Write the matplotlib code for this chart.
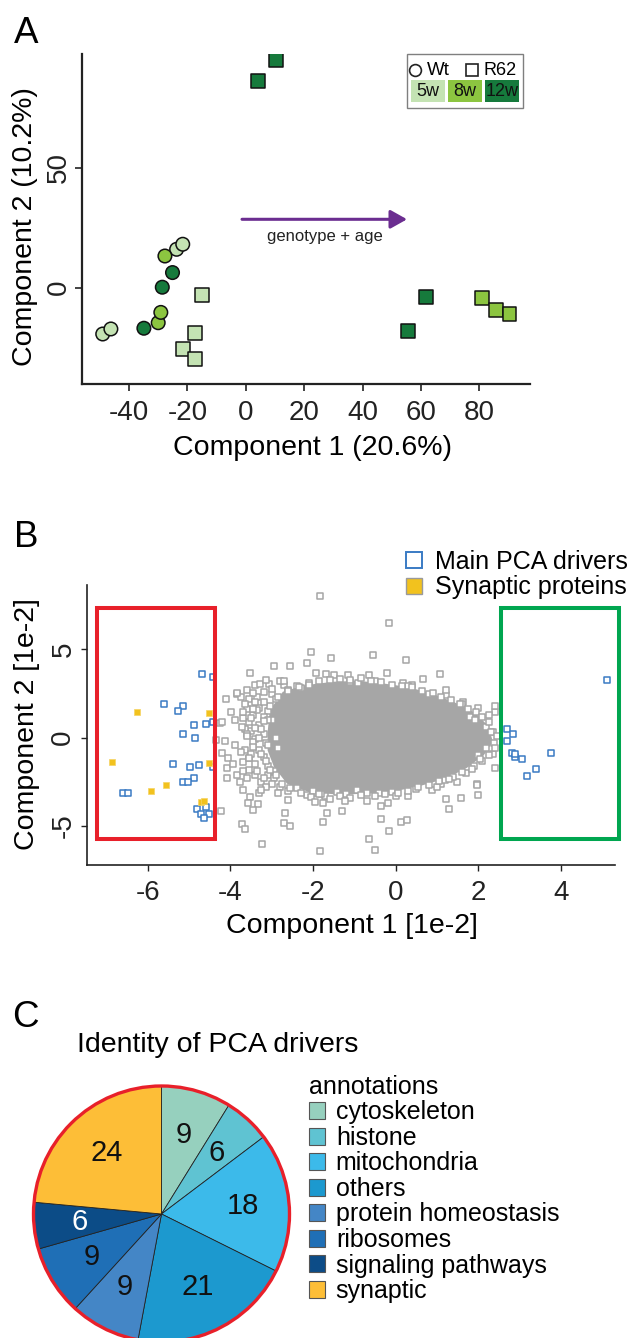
import matplotlib
matplotlib.use('Agg')
import matplotlib.pyplot as plt
from matplotlib.patches import Rectangle, Circle
from matplotlib.lines import Line2D

plt.rcParams['font.family'] = ['Liberation Sans', 'DejaVu Sans']
plt.rcParams['axes.unicode_minus'] = False

# ---------------- panel A : sample PCA ----------------
age_names = ['5w', '8w', '12w']
age_colors = {'5w': '#c4e3b3', '8w': '#8cc540', '12w': '#167a3c'}

wt_x = [-23.7, -21.6, -49.0, -46.2, -27.7, -30.0, -29.1, -25.1, -28.6, -34.9]
wt_y = [16.0, 18.1, -19.3, -17.2, 13.2, -14.6, -10.3, 6.3, 0.2, -16.9]
wt_age = ['5w', '5w', '5w', '5w', '8w', '8w', '8w', '12w', '12w', '12w']

r62_x = [-15.1, -17.3, -21.4, -17.3, 4.3, 10.2, 55.5, 61.7, 81.0, 85.6, 90.3]
r62_y = [-3.0, -18.7, -25.5, -29.8, 86.1, 94.9, -17.9, -4.0, -4.4, -9.3, -11.0]
r62_age = ['5w', '5w', '5w', '5w', '12w', '12w', '12w', '12w', '8w', '8w', '8w']

a_xticks = [-40, -20, 0, 20, 40, 60, 80]
a_yticks = [0, 50]

# ---------------- panel B : protein loadings ----------------
# dense centre of the loading cloud (outline)
core_x = [-3.05, -3.0, -2.7, -2.2, -1.5, -0.9, -0.3, 0.3, 0.9, 1.4, 1.9, 2.2,
          2.3, 2.1, 1.7, 1.2, 0.6, 0.0, -0.7, -1.4, -2.1, -2.6, -2.9, -3.05]
core_y = [0.3, 1.5, 2.5, 2.85, 3.05, 3.1, 2.95, 2.75, 2.35, 1.9, 1.3, 0.6,
          -0.2, -0.9, -1.6, -2.2, -2.6, -2.9, -3.05, -3.1, -2.95, -2.5, -1.6, -0.7]

# single proteins around the dense centre
edge_x = [-3.41, -3.29, -3.06, -2.70, -3.2, -3.0, -2.9, -3.35, -3.5, -3.3, -3.1, -3.45,
          -3.2, -3.55, -3.3, -3.5, -3.2, -3.4, -3.15, -3.45, -3.3, -3.55, -3.2, -3.4,
          -3.1, -3.41, -3.09, -3.25, -2.8, -2.95, -2.6, -2.4, -2.15, -1.95, -1.7, -1.43,
          -1.2, -0.94, -0.7, -0.4, -0.1, 0.31, 0.5, 0.89, 1.1, 1.48, 1.4, 1.7,
          1.96, 1.9, 2.1, 2.41, 2.35, 2.37, 2.35, 2.41, 2.25, 2.41, 1.99, 1.64,
          1.22, 1.21, 0.39, 0.17, 0.67, -0.22, -0.64, -0.9, -1.1, -1.15, -1.5, -1.69,
          -1.93, -2.1, -2.4, 2.2, 2.2, 1.8, 0.8, -0.5, -2.6, -2.0, 0.0, 1.0,
          -3.0, -2.85, -2.95, -2.9, 1.6, 2.0, 1.2, 0.3, -1.8, -2.3,
          -3.1, -3.05, -2.85, -2.6, -2.35, -2.1, -1.85, -1.6, -1.35, -1.1, -0.85, -0.6,
          -0.35, -0.1, 0.15, 0.4, 0.65, 0.9, 1.1, 1.35, 1.55, 1.75, 1.95, 2.1,
          2.25, 2.3, 2.45, 2.4, 2.25, 2.05, 1.85, 1.6, 1.3, 1.05, 0.8, 0.55,
          0.3, 0.05, -0.25, -0.5, -0.85, -1.1, -1.35, -1.6, -1.85, -2.05, -2.3, -2.55,
          -2.75, -2.9, -3.05, -3.15, -3.25, -3.1, -3.3, -3.25, -3.2, -3.35, -3.2, -3.0,
          -2.8, -3.6, -3.45, -3.55, -3.4, -3.6, -3.45, -3.7, -3.5, -3.65, -3.4, -3.6,
          -3.45, -3.65, -3.5, -3.7, -3.55, -3.35, -3.6, -3.2, -3.0, -2.85, -3.15, -3.3,
          -2.7, -3.15]
edge_y = [2.98, 3.06, 3.02, 2.98, 2.6, 2.5, 2.2, 2.3, 1.9, 1.7, 1.5, 1.3,
          1.2, 0.9, 0.7, 0.4, 0.2, -0.1, -0.3, -0.23, -0.7, -1.17, -1.1, -1.5,
          -1.6, -2.11, -2.11, -2.5, -2.77, -2.3, -3.0, -2.86, -3.24, -3.1, -3.3, -3.06,
          -3.2, -2.96, -3.15, -3.1, -3.05, -3.28, -2.9, -2.96, -2.6, -2.53, -2.2, -2.0,
          -2.62, -1.6, -1.3, -1.73, -0.94, -0.32, 0.3, 1.47, 1.28, 1.81, 1.7, 2.04,
          2.42, 2.7, 2.98, 3.11, 3.32, 3.64, 3.55, 3.1, 3.17, 3.53, 3.53, 3.6,
          3.66, 3.1, 2.9, 0.6, -0.6, 1.2, 2.5, 3.2, 2.7, -3.0, -3.3, -2.8,
          1.0, -0.6, -1.9, 0.0, 1.9, -1.0, -2.4, 2.9, -3.2, 2.8,
          1.0, 1.8, 2.3, 2.65, 2.85, 3.0, 3.2, 3.25, 3.3, 3.25, 3.35, 3.2,
          3.15, 3.0, 2.9, 2.85, 2.65, 2.55, 2.3, 2.15, 1.9, 1.65, 1.45, 1.15,
          0.9, 0.35, 0.1, -0.6, -1.0, -1.2, -1.75, -1.95, -2.35, -2.45, -2.7, -2.8,
          -3.0, -3.1, -3.2, -3.3, -3.25, -3.4, -3.3, -3.45, -3.2, -3.35, -3.1, -2.85,
          -2.6, -2.1, -1.85, -1.3, -0.9, -0.4, 0.0, 0.5, 0.95, 1.55, 2.0, 2.75,
          3.2, 2.7, 2.55, 2.2, 2.0, 1.6, 1.65, 1.1, 1.1, 0.5, 0.55, 0.2,
          -0.5, -0.7, -0.9, -1.4, -1.8, -1.9, -2.25, -2.3, -2.6, -3.1, -2.8, -3.1,
          3.2, 3.25]

out_x = [-1.83, -0.15, -2.05, -1.56, -2.94, -2.55, -2.14, -3.52, -3.84, -4.11, -0.54, 0.24,
         1.08, -3.98, -3.69, -4.26, -3.72, -4.13, -3.89, -4.34, -4.2, -4.05, -3.55, -4.08,
         -4.08, -3.85, -3.77, -3.69, -3.53, -3.25, -3.57, -3.33, -3.46, -4.24, -3.72, -3.65,
         -3.23, -2.69, -2.71, -2.56, -2.6, -1.95, -1.75, -1.23, -1.31, -1.67, -1.75, -1.83,
         -0.69, -0.36, -0.19, -0.36, -0.15, -0.64, -0.49, 0.14, 0.27, 1.21, 1.3, 1.59,
         2.0, 1.98, 1.91, -4.21, -3.9, -3.95, -3.7, -3.75, -3.6, -3.65, -3.75, -3.85]
out_y = [8.04, 6.49, 4.87, 4.53, 4.04, 4.04, 4.25, 3.66, 2.49, 2.19, 4.68, 4.4,
         3.62, 1.44, 1.47, 0.85, 0.62, -0.17, -0.41, -0.13, -0.85, -1.17, -1.17, -1.70,
         -2.26, -2.11, -2.49, -2.96, -3.34, -2.96, -3.71, -3.77, -4.09, -4.15, -4.87, -5.17,
         -6.0, -4.26, -4.83, -4.98, -3.53, -3.62, -3.68, -3.58, -4.13, -4.24, -4.75, -6.41,
         -3.58, -3.87, -3.68, -4.6, -5.28, -5.73, -6.36, -4.75, -4.66, -3.47, -4.03, -3.39,
         -3.24, -2.68, 1.0, 0.91, 1.0, -1.5, -1.9, -0.8, 0.1, 1.9, 2.3, 2.51]

drv_x = [-4.68, -4.43, -5.6, -5.14, -5.28, -4.89, -4.6, -4.43, -5.16, -4.85, -5.38, -4.97,
         -4.76, -4.43, -4.89, -5.15, -5.04, -6.6, -6.49, -4.81, -4.6, -4.72, -4.52, -4.64,
         5.11, 2.69, 2.85, 2.69, 2.83, 2.89, 2.88, 3.05, 3.77, 3.41, 3.17]
drv_y = [3.6, 3.45, 1.91, 1.79, 1.51, 0.72, 0.78, 0.91, 0.21, -0.02, -1.49, -1.66,
         -1.55, -1.64, -2.26, -2.5, -2.5, -3.15, -3.15, -4.03, -3.9, -4.32, -4.32, -4.56,
         3.27, 0.49, 0.21, -0.19, -0.88, -1.11, -0.94, -1.21, -0.85, -1.75, -2.15]

syn_x = [-6.27, -4.51, -6.87, -4.51, -5.92, -5.57, -4.72, -4.63]
syn_y = [1.45, 1.40, -1.36, -1.43, -3.02, -2.66, -3.64, -3.58]

b_xticks = [-6, -4, -2, 0, 2, 4]
b_yticks = [-5, 0, 5]

# ---------------- panel C : identity of drivers ----------------
annot = ['cytoskeleton', 'histone', 'mitochondria', 'others',
         'protein homeostasis', 'ribosomes', 'signaling pathways', 'synaptic']
counts = [9, 6, 18, 21, 9, 9, 6, 24]
pie_colors = ['#96d0be', '#5fc3d2', '#3cbaea', '#1c99cf',
              '#4486c6', '#1f6fb6', '#0c4c87', '#fdbe37']

GRAY = '#a6a6a6'
BLUE = '#3a7bc4'
YEL = '#f2c21e'

fig = plt.figure(figsize=(6.33, 13.38), dpi=100)

# ===== A =====
ax = fig.add_axes([0.1295, 0.7128, 0.7073, 0.2466])
ax.set_xlim(-56.1, 97.2)
ax.set_ylim(-40.25, 97.25)
for s in ['top', 'right']:
    ax.spines[s].set_visible(False)
for s in ['left', 'bottom']:
    ax.spines[s].set_linewidth(1.6)
    ax.spines[s].set_color('#222222')
ax.set_xticks(a_xticks)
ax.set_yticks(a_yticks)
ax.tick_params(axis='both', length=5, width=1.2, labelsize=20, colors='#222222')
ax.tick_params(axis='x', pad=6)
ax.tick_params(axis='y', pad=2)
for t in ax.get_yticklabels():
    t.set_rotation(90)
    t.set_va('center')
ax.set_xlabel('Component 1 (20.6%)', fontsize=20.5)
ax.set_ylabel('Component 2 (10.2%)', fontsize=20.5)
ax.xaxis.set_label_coords(0.514, -0.155)
ax.yaxis.set_label_coords(-0.098, 0.478)

ax.scatter(wt_x, wt_y, s=95, marker='o', c=[age_colors[a] for a in wt_age],
           edgecolors='#111111', linewidths=1.1, zorder=3)
ax.scatter(r62_x, r62_y, s=100, marker='s', c=[age_colors[a] for a in r62_age],
           edgecolors='#111111', linewidths=1.1, zorder=3)

ax.annotate('', xy=(55.2, 28.5), xytext=(-1.3, 28.5),
            arrowprops=dict(arrowstyle='-|>,head_length=0.5,head_width=0.28',
                            color='#6b2d90', lw=2.2, mutation_scale=20,
                            shrinkA=0, shrinkB=0))
ax.text(27, 21.3, 'genotype + age', fontsize=12, ha='center', va='center', color='#222222')

# legend box (axes fraction)
ax.add_patch(Rectangle((0.725, 0.838), 0.261, 0.163, transform=ax.transAxes,
                       facecolor='white', edgecolor='#7f7f7f', lw=1.0, clip_on=False, zorder=4))
ax.plot([0.7438], [0.952], transform=ax.transAxes, marker='o', ms=8.5, mfc='white',
        mec='#222222', mew=1.2, clip_on=False, zorder=5)
ax.text(0.7715, 0.950, 'Wt', transform=ax.transAxes, fontsize=13.5, va='center', zorder=5)
ax.plot([0.8705], [0.952], transform=ax.transAxes, marker='s', ms=8.8, mfc='white',
        mec='#222222', mew=1.2, clip_on=False, zorder=5)
ax.text(0.896, 0.950, 'R62', transform=ax.transAxes, fontsize=13, va='center', zorder=5)
for i, a in enumerate(age_names):
    x0 = 0.7344 + i * 0.083
    ax.add_patch(Rectangle((x0, 0.8563), 0.0766, 0.0658, transform=ax.transAxes,
                           facecolor=age_colors[a], edgecolor='none', clip_on=False, zorder=5))
    ax.text(x0 + 0.0383, 0.887, a, transform=ax.transAxes, fontsize=13,
            ha='center', va='center', color='#111111', zorder=6)

fig.text(14 / 633, 1 - 43.3 / 1338, 'A', fontsize=26.5, ha='left', va='baseline')

# ===== B =====
bx = fig.add_axes([0.1371, 0.3535, 0.8343, 0.2093])
bx.set_xlim(-7.48, 5.31)
bx.set_ylim(-7.2, 8.64)
for s in ['top', 'right']:
    bx.spines[s].set_visible(False)
for s in ['left', 'bottom']:
    bx.spines[s].set_linewidth(1.2)
    bx.spines[s].set_color('#222222')
bx.set_xticks(b_xticks)
bx.set_yticks(b_yticks)
bx.tick_params(axis='both', length=4.5, width=1.0, labelsize=20, colors='#222222')
bx.tick_params(axis='x', pad=6)
bx.tick_params(axis='y', pad=3)
for t in bx.get_yticklabels():
    t.set_rotation(90)
    t.set_va('center')
bx.set_xlabel('Component 1 [1e-2]', fontsize=20.5)
bx.set_ylabel('Component 2 [1e-2]', fontsize=20.5)
bx.xaxis.set_label_coords(0.502, -0.17)
bx.yaxis.set_label_coords(-0.089, 0.504)

bx.fill(core_x, core_y, color=GRAY, lw=3, zorder=1)
bx.scatter(edge_x + out_x, edge_y + out_y, s=22, marker='s', facecolors='white',
           edgecolors=GRAY, linewidths=1.1, zorder=2)
bx.scatter(drv_x, drv_y, s=22, marker='s', facecolors='white',
           edgecolors=BLUE, linewidths=1.1, zorder=3)
bx.scatter(syn_x, syn_y, s=24, marker='s', facecolors=YEL,
           edgecolors='#f6d463', linewidths=0.5, zorder=3)

bx.add_patch(Rectangle((-7.23, -5.72), 2.86, 13.04, fill=False, edgecolor='#e8202a',
                       lw=2.9, zorder=4, clip_on=False))
bx.add_patch(Rectangle((2.55, -5.72), 2.87, 13.04, fill=False, edgecolor='#00a650',
                       lw=2.9, zorder=4, clip_on=False))

handles = [Line2D([], [], ls='none', marker='s', ms=11, mfc='white', mec=BLUE, mew=1.4),
           Line2D([], [], ls='none', marker='s', ms=11, mfc=YEL, mec='#9a9a9a', mew=1.0)]
bx.legend(handles, ['Main PCA drivers', 'Synaptic proteins'], loc='upper left',
          bbox_to_anchor=(404 / 633, 1 - 550 / 1338), bbox_transform=fig.transFigure,
          frameon=False, fontsize=18, handlelength=0.8, handletextpad=0.45,
          labelspacing=0.05, borderpad=0, borderaxespad=0)

fig.text(14 / 633, 1 - 546.7 / 1338, 'B', fontsize=26.5, ha='left', va='baseline')

# ===== C =====
cx = fig.add_axes([27.1 / 633, 1 - 1348.4 / 1338, 268.8 / 633, 268.8 / 1338])
wedges, texts, autotexts = cx.pie(counts, colors=pie_colors, startangle=90,
                                  counterclock=False, radius=1,
                                  autopct=lambda p: f'{round(p * sum(counts) / 100)}',
                                  pctdistance=0.64,
                                  wedgeprops=dict(edgecolor='#222222', linewidth=0.6),
                                  textprops=dict(fontsize=21, color='#111111'))
autotexts[annot.index('signaling pathways')].set_color('white')
cx.add_patch(Circle((0, 0), 1.0, fill=False, edgecolor='#e8202a', lw=2.4, zorder=5))
cx.set_xlim(-1.05, 1.05)
cx.set_ylim(-1.05, 1.05)
cx.set_aspect('auto')

leg = cx.legend(wedges, annot, title='annotations', loc='upper left',
                bbox_to_anchor=(309 / 633, 1 - 1075 / 1338), bbox_transform=fig.transFigure,
                frameon=False, fontsize=18, title_fontsize=18, alignment='left',
                handlelength=0.65, handleheight=0.65, handletextpad=0.42,
                labelspacing=0.06, borderpad=0, borderaxespad=0)
for h in leg.legend_handles:
    h.set_edgecolor('#555555')
    h.set_linewidth(0.8)

fig.text(76.7 / 633, 1 - 1052 / 1338, 'Identity of PCA drivers', fontsize=20.5,
         ha='left', va='baseline')
fig.text(12 / 633, 1 - 1026.7 / 1338, 'C', fontsize=26.5, ha='left', va='baseline')

fig.savefig('out.png', dpi=100)
